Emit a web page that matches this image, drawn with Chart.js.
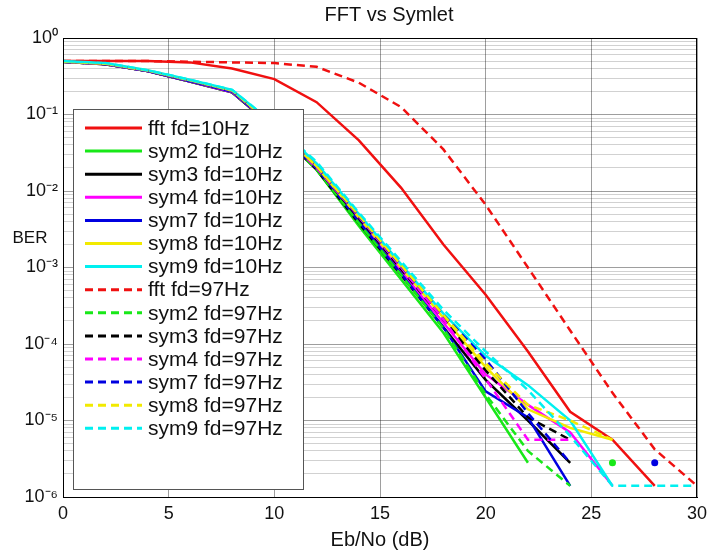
<!DOCTYPE html>
<html>
<head>
<meta charset="utf-8">
<title>FFT vs Symlet</title>
<script src="https://cdn.jsdelivr.net/npm/chart.js@4.4.1/dist/chart.umd.min.js"></script>
<style>
  html, body { margin: 0; padding: 0; background: #fff; }
  #wrap { width: 722px; height: 554px; position: relative; }
</style>
</head>
<body>
<div id="wrap"><canvas id="myChart"></canvas></div>
<script>
// Eb/No points (dB)
var ebno = [0, 2, 4, 6, 8, 10, 12, 14, 16, 18, 20, 22, 24, 26, 28, 30];

// BER values, null = no errors counted (not drawn on log axis)
var fft10  = [0.5, 0.5, 0.5, 0.48, 0.40, 0.29, 0.145, 0.046, 0.011, 0.002, 4.4e-4, 8e-5, 1.3e-5, 5.6e-6, 1.4e-6, null];
var sym2_10 = [0.49, 0.455, 0.37, 0.27, 0.195, 0.066, 0.019, 3.5e-3, 7e-4, 1.4e-4, 2e-5, 2.8e-6, null, 2.8e-6, null, null];
var sym3_10 = [0.49, 0.455, 0.37, 0.27, 0.195, 0.066, 0.019, 3.8e-3, 8e-4, 1.65e-4, 3.4e-5, 1e-5, 2.8e-6, null, null, null];
var sym4_10 = [0.49, 0.455, 0.37, 0.27, 0.195, 0.067, 0.02, 4.2e-3, 8.9e-4, 1.9e-4, 4e-5, 1.6e-5, 7e-6, 1.4e-6, null, null];
var sym7_10 = [0.49, 0.457, 0.37, 0.272, 0.198, 0.067, 0.02, 4e-3, 8.3e-4, 1.65e-4, 2.4e-5, 1.1e-5, 1.4e-6, null, 2.8e-6, null];
var sym8_10 = [0.49, 0.46, 0.375, 0.28, 0.205, 0.07, 0.021, 4.5e-3, 1e-3, 2.2e-4, 5e-5, 1.4e-5, 8e-6, 5.6e-6, null, null];
var sym9_10 = [0.5, 0.47, 0.38, 0.285, 0.21, 0.074, 0.023, 5e-3, 1.1e-3, 2.5e-4, 7e-5, 2.9e-5, 1e-5, 1.4e-6, null, null];

var fft97  = [0.5, 0.5, 0.5, 0.49, 0.48, 0.47, 0.42, 0.26, 0.125, 0.035, 0.0066, 1e-3, 1.5e-4, 2.3e-5, 4.2e-6, 1.4e-6];
var sym2_97 = [0.49, 0.455, 0.37, 0.27, 0.195, 0.066, 0.019, 3.8e-3, 8e-4, 1.6e-4, 2.2e-5, 4e-6, 1.4e-6, null, null, null];
var sym3_97 = [0.49, 0.455, 0.37, 0.272, 0.197, 0.067, 0.02, 4.4e-3, 9.5e-4, 2.1e-4, 4.5e-5, 1.1e-5, 5.6e-6, null, null, null];
var sym4_97 = [0.49, 0.456, 0.37, 0.272, 0.197, 0.068, 0.02, 4.6e-3, 1e-3, 2.1e-4, 3.5e-5, 5.6e-6, 5.6e-6, null, null, null];
var sym7_97 = [0.49, 0.457, 0.372, 0.275, 0.2, 0.069, 0.021, 4.7e-3, 1.05e-3, 2.4e-4, 6.3e-5, 1.25e-5, 2.8e-6, null, null, null];
var sym8_97 = [0.49, 0.46, 0.375, 0.28, 0.205, 0.07, 0.021, 4.8e-3, 1.07e-3, 2.4e-4, 5.6e-5, 1.6e-5, 1e-5, 5.6e-6, null, null];
var sym9_97 = [0.5, 0.47, 0.38, 0.285, 0.21, 0.075, 0.024, 5.2e-3, 1.2e-3, 2.8e-4, 8e-5, 2.5e-5, 6.3e-6, 1.4e-6, 1.4e-6, 1.4e-6];

var names = ['fft', 'sym2', 'sym3', 'sym4', 'sym7', 'sym8', 'sym9'];
var colors = ['#f01010', '#18e818', '#000000', '#ff00ff', '#0000e0', '#f2ea00', '#00f0f0'];
var series10 = [fft10, sym2_10, sym3_10, sym4_10, sym7_10, sym8_10, sym9_10];
var series97 = [fft97, sym2_97, sym3_97, sym4_97, sym7_97, sym8_97, sym9_97];

var FONT = '"Liberation Sans", Arial, Helvetica, sans-serif';
Chart.defaults.font.family = FONT;
Chart.defaults.color = '#111';

var DASH = [8, 5];

var datasets = [];
function addSet(vals, i, fd, dashed) {
  datasets.push({
    label: names[i] + ' fd=' + fd + 'Hz',
    data: vals,
    borderColor: colors[i],
    backgroundColor: colors[i],
    borderWidth: 2.5,
    borderDash: dashed ? DASH : [],
    fill: false,
    tension: 0,
    pointBorderWidth: 0,
    pointBackgroundColor: colors[i],
    // lone points (no neighbours) show up as dots like in the original
    pointRadius: function(c) {
      var d = c.dataset.data, k = c.dataIndex;
      if (d[k] == null) return 0;
      return (d[k - 1] == null && d[k + 1] == null) ? 3.5 : 0;
    }
  });
}
series10.forEach(function(s, i) { addSet(s, i, 10, false); });
series97.forEach(function(s, i) { addSet(s, i, 97, true); });
datasets.forEach(function(d, i) { d.order = datasets.length - i; });

var sup = {'0':'\u2070','1':'\u00b9','2':'\u00b2','3':'\u00b3','4':'\u2074','5':'\u2075','6':'\u2076','-':'\u207b'};
function isDecade(v) {
  var e = Math.log10(v);
  return Math.abs(e - Math.round(e)) < 1e-9;
}

var overlay = {
  id: 'overlay',
  afterDraw: function(chart) {
    var ctx = chart.ctx, a = chart.chartArea;
    ctx.save();

    // title
    ctx.fillStyle = '#111';
    ctx.font = '20px ' + FONT;
    ctx.textAlign = 'center';
    ctx.textBaseline = 'middle';
    ctx.fillText('FFT vs Symlet', 389, 15);

    // y label, horizontal like in matlab
    ctx.font = '17px ' + FONT;
    ctx.fillText('BER', 30, 238);

    // legend box
    var lx = 73, ly = 109, lw = 230, lh = 380;
    ctx.fillStyle = '#fff';
    ctx.fillRect(lx, ly, lw, lh);
    ctx.strokeStyle = '#555';
    ctx.lineWidth = 1;
    ctx.strokeRect(lx + 0.5, ly + 0.5, lw, lh);

    ctx.font = '21px ' + FONT;
    ctx.textAlign = 'left';
    chart.data.datasets.forEach(function(d, i) {
      var y = 128 + i * 23.1;
      ctx.beginPath();
      ctx.setLineDash(d.borderDash);
      ctx.strokeStyle = d.borderColor;
      ctx.lineWidth = 3;
      ctx.moveTo(85, y);
      ctx.lineTo(142, y);
      ctx.stroke();
      ctx.setLineDash([]);
      ctx.fillStyle = '#111';
      ctx.fillText(d.label, 148, y + 1);
    });

    // axes box
    ctx.strokeStyle = '#000';
    ctx.lineWidth = 1;
    ctx.strokeRect(Math.round(a.left) + 0.5, Math.round(a.top) + 0.5,
                   Math.round(a.right - a.left) - 1, Math.round(a.bottom - a.top));
    ctx.restore();
  }
};

var ctx = document.getElementById('myChart').getContext('2d');
var myChart = new Chart(ctx, {
  type: 'line',
  data: {
    labels: ebno,
    datasets: datasets
  },
  options: {
    responsive: true,
    maintainAspectRatio: false,
    animation: false,
    layout: { padding: { top: 38, right: 25, left: 0, bottom: 0 } },
    plugins: {
      legend: { display: false },
      tooltip: { enabled: false },
      title: { display: false }
    },
    scales: {
      x: {
        type: 'linear',
        min: 0,
        max: 30,
        ticks: { stepSize: 5, font: { size: 18 }, padding: 6, color: '#111' },
        grid: { color: 'rgba(0,0,0,0.38)', drawTicks: false },
        border: { display: true, color: '#000' },
        title: {
          display: true,
          text: 'Eb/No (dB)',
          font: { size: 20 },
          color: '#111',
          padding: { top: 0, bottom: 2 }
        },
        afterFit: function(s) { s.height = 57; }
      },
      y: {
        type: 'logarithmic',
        min: 1e-6,
        max: 1,
        afterBuildTicks: function(s) {
          var t = [];
          for (var e = -6; e <= 0; e++) {
            for (var m = 1; m <= 9; m++) {
              var v = m * Math.pow(10, e);
              if (v <= 1.0000001) t.push({ value: v });
            }
          }
          s.ticks = t;
        },
        ticks: {
          autoSkip: false,
          font: { size: 18 },
          padding: 5,
          color: '#111',
          callback: function(v) {
            if (!isDecade(v)) return '';
            return '10' + String(Math.round(Math.log10(v))).split('').map(function(c) { return sup[c]; }).join('');
          }
        },
        grid: {
          drawTicks: false,
          color: function(c) {
            return c.tick && isDecade(c.tick.value) ? 'rgba(0,0,0,0.38)' : 'rgba(0,0,0,0.18)';
          }
        },
        border: { display: true, color: '#000' },
        afterFit: function(s) { s.width = 63; }
      }
    }
  },
  plugins: [overlay]
});
</script>
</body>
</html>
